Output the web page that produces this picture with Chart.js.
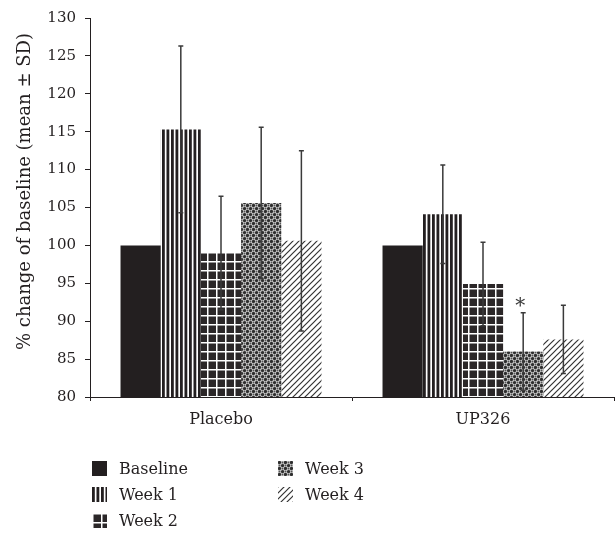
<!DOCTYPE html>
<html>
<head>
<meta charset="utf-8">
<script src="https://cdn.jsdelivr.net/npm/chart.js@4"></script>
<style>
  body { margin: 0; background: #fff; }
  #wrap { position: relative; width: 616px; height: 535px; }
  .leg { position: absolute; display: flex; align-items: center; font: 16px "DejaVu Serif", serif; color: #231f20; }
  .leg canvas { margin-right: 12px; }
</style>
</head>
<body>
<div id="wrap">
  <canvas id="chart" width="616" height="535"></canvas>
</div>
<script>
const categories = ['Placebo', 'UP326'];
const seriesNames = ['Baseline', 'Week 1', 'Week 2', 'Week 3', 'Week 4'];

const baseline = [100, 100];
const week1 = [115.3, 104.1];
const week2 = [99.0, 94.9];
const week3 = [105.6, 86.0];
const week4 = [100.6, 87.6];

const sdBaseline = [0, 0];
const sdWeek1 = [11.0, 6.5];
const sdWeek2 = [7.5, 5.5];
const sdWeek3 = [10.0, 5.1];
const sdWeek4 = [11.9, 4.5];

// which bars carry the significance star
const starWeek3 = [false, true];

const yMin = 80, yMax = 130, yStep = 5;
const yTitle = '% change of baseline (mean ± SD)';

const DARK = '#231f20';
const FONT = '"DejaVu Serif", serif';

function makePattern(kind) {
  const c = document.createElement('canvas');
  const g = c.getContext('2d');
  if (kind === 'solid') {
    return DARK;
  }
  if (kind === 'vstripes') {
    c.width = 9; c.height = 4;
    g.fillStyle = '#fff'; g.fillRect(0, 0, 9, 4);
    g.fillStyle = DARK;
    g.fillRect(0, 0, 2.8, 4);
    g.fillRect(4.5, 0, 2.8, 4);
  } else if (kind === 'grid') {
    c.width = 9; c.height = 9;
    g.fillStyle = '#2b2728'; g.fillRect(0, 0, 9, 9);
    g.fillStyle = '#fff';
    g.fillRect(0, 0, 1.5, 9);
    g.fillRect(0, 0, 9, 1.5);
  } else if (kind === 'dots') {
    c.width = 6; c.height = 6;
    g.fillStyle = '#c8c8c8'; g.fillRect(0, 0, 6, 6);
    g.fillStyle = '#2e2e2e';
    [[1.5, 1.5], [4.5, 4.5]].forEach(([x, y]) => {
      g.beginPath(); g.arc(x, y, 1.6, 0, Math.PI * 2); g.fill();
    });
    g.fillStyle = '#555';
    [[4.5, 1.5], [1.5, 4.5]].forEach(([x, y]) => {
      g.beginPath(); g.arc(x, y, 0.9, 0, Math.PI * 2); g.fill();
    });
  } else if (kind === 'diag') {
    c.width = 6; c.height = 6;
    g.fillStyle = '#fff'; g.fillRect(0, 0, 6, 6);
    g.strokeStyle = '#333'; g.lineWidth = 1.2;
    g.beginPath();
    g.moveTo(-1, 7); g.lineTo(7, -1);
    g.moveTo(-1, 1); g.lineTo(1, -1);
    g.moveTo(5, 7); g.lineTo(7, 5);
    g.stroke();
  }
  return g.createPattern(c, 'repeat');
}

const kinds = ['solid', 'vstripes', 'grid', 'dots', 'diag'];
const values = [baseline, week1, week2, week3, week4];
const sds = [sdBaseline, sdWeek1, sdWeek2, sdWeek3, sdWeek4];

const datasets = seriesNames.map((name, i) => ({
  label: name,
  data: values[i],
  sd: sds[i],
  backgroundColor: makePattern(kinds[i]),
  borderWidth: 0,
  categoryPercentage: 0.767,
  barPercentage: 1.0
}));

const errorBars = {
  id: 'errorBars',
  afterDatasetsDraw(chart) {
    const ctx = chart.ctx;
    const y = chart.scales.y;
    ctx.save();
    ctx.strokeStyle = '#3a3a3a';
    ctx.lineWidth = 1.5;
    chart.data.datasets.forEach((ds, di) => {
      const meta = chart.getDatasetMeta(di);
      meta.data.forEach((bar, j) => {
        const sd = ds.sd[j];
        if (!sd) return;
        const top = y.getPixelForValue(ds.data[j] + sd);
        const bot = y.getPixelForValue(ds.data[j] - sd);
        const x = bar.x;
        ctx.beginPath();
        ctx.moveTo(x, top); ctx.lineTo(x, bot);
        ctx.moveTo(x - 2.5, top); ctx.lineTo(x + 2.5, top);
        ctx.moveTo(x - 2.5, bot); ctx.lineTo(x + 2.5, bot);
        ctx.stroke();
        if (di === 3 && starWeek3[j]) {
          ctx.fillStyle = '#3a3a3a';
          ctx.font = '20px ' + FONT;
          ctx.textAlign = 'center';
          ctx.textBaseline = 'middle';
          ctx.fillText('*', x - 3, top - 6);
        }
      });
    });
    ctx.restore();
  }
};

// y title sits a bit above the middle of the axis in the original
const sideTitle = {
  id: 'sideTitle',
  afterDraw(chart) {
    const ctx = chart.ctx;
    const y = chart.scales.y;
    ctx.save();
    ctx.translate(25, (y.top + y.bottom) / 2 - 16);
    ctx.rotate(-Math.PI / 2);
    ctx.font = '18px ' + FONT;
    ctx.fillStyle = DARK;
    ctx.textAlign = 'center';
    ctx.textBaseline = 'middle';
    ctx.fillText(yTitle, 0, 0);
    ctx.restore();
  }
};

Chart.defaults.font.family = FONT;
Chart.defaults.font.size = 15;
Chart.defaults.color = DARK;

new Chart(document.getElementById('chart'), {
  type: 'bar',
  data: { labels: categories, datasets },
  options: {
    responsive: false,
    animation: false,
    devicePixelRatio: 1,
    layout: { padding: { top: 18, right: 2, left: 0, bottom: 0 } },
    plugins: { legend: { display: false }, tooltip: { enabled: false } },
    scales: {
      x: {
        grid: { offset: true, drawOnChartArea: false, tickLength: 4, color: DARK },
        border: { color: DARK, width: 1 },
        ticks: { padding: 9, color: DARK, font: { size: 16 } },
        afterFit(s) { s.height = 138; }
      },
      y: {
        min: yMin, max: yMax,
        ticks: { stepSize: yStep, padding: 9, color: DARK },
        grid: { drawOnChartArea: false, tickLength: 5, color: DARK },
        border: { color: DARK, width: 1 },
        afterFit(s) { s.width = 90; }
      }
    }
  },
  plugins: [errorBars, sideTitle]
});

// legend in two columns below the plot
const legendSpots = [[92, 461], [92, 487], [92, 513], [278, 461], [278, 487]];
const wrap = document.getElementById('wrap');
seriesNames.forEach((name, i) => {
  const item = document.createElement('div');
  item.className = 'leg';
  item.style.left = legendSpots[i][0] + 'px';
  item.style.top = (legendSpots[i][1] - 2) + 'px';
  const sw = document.createElement('canvas');
  sw.width = 15; sw.height = 15;
  const g = sw.getContext('2d');
  g.fillStyle = datasets[i].backgroundColor;
  g.fillRect(0, 0, 15, 15);
  item.appendChild(sw);
  const t = document.createElement('span');
  t.textContent = name;
  item.appendChild(t);
  wrap.appendChild(item);
});
</script>
</body>
</html>
